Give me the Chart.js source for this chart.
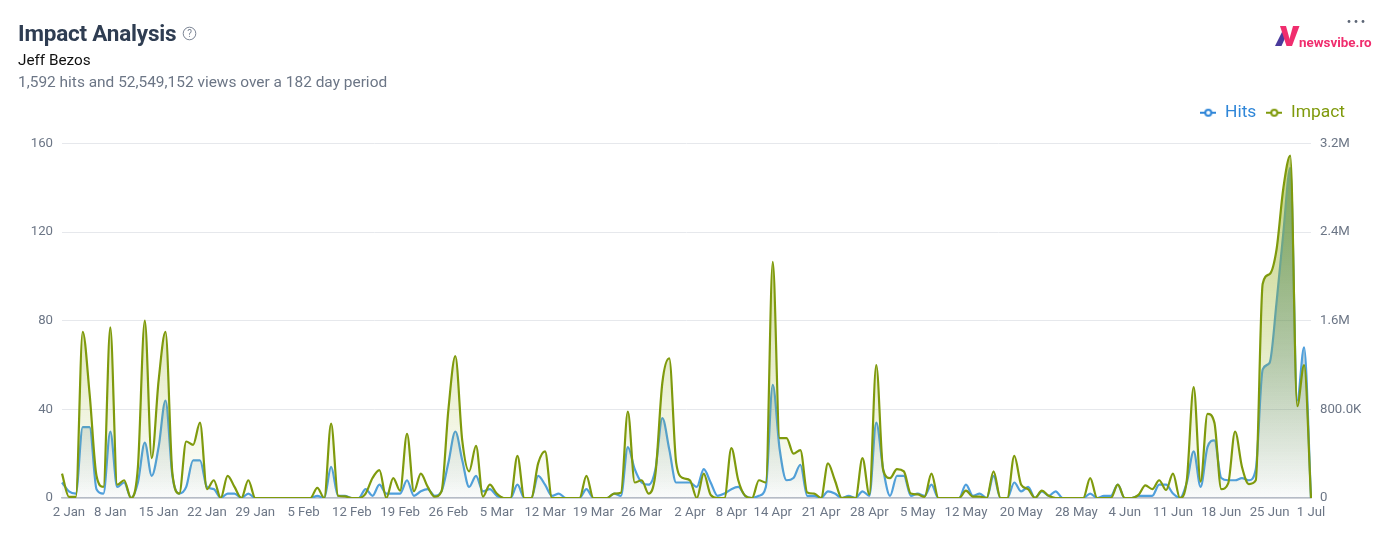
<!DOCTYPE html>
<html>
<head>
<meta charset="utf-8">
<title>Impact Analysis</title>
<script src="https://cdn.jsdelivr.net/npm/chart.js@4"></script>
<style>
    html, body { margin: 0; padding: 0; background: #fff; font-family: Roboto, sans-serif; }
    #wrap { position: relative; width: 1384px; height: 559px; overflow: hidden; }
    #wrap canvas { position: absolute; left: 0; top: 0; }
    .txt { position: absolute; white-space: nowrap; }
    #title { left: 18px; top: 20px; font-size: 22.5px; font-weight: 700; color: #2f3d52; letter-spacing: -0.2px; }
    #person { left: 18px; top: 51px; font-size: 15.3px; color: #111; }
    #summary { left: 18px; top: 73px; font-size: 15.45px; color: #6c7686; }
    #brand { left: 1299px; top: 35px; font-size: 13.4px; font-weight: 700; color: #f02d6e; }
    #help { position: absolute; left: 182px; top: 26px; }
    #logo { position: absolute; left: 1274px; top: 25px; }
    #dots { position: absolute; left: 1347px; top: 19px; }
</style>
</head>
<body>
<div id="wrap">
    <canvas id="impact-chart" width="1384" height="559"></canvas>
    <div class="txt" id="title">Impact Analysis</div>
    <svg id="help" width="15" height="15" viewBox="0 0 15 15">
        <circle cx="7.5" cy="7.5" r="6.3" fill="none" stroke="#7b8494" stroke-width="1"/>
        <text x="7.5" y="11" text-anchor="middle" font-size="10" font-family="Roboto" fill="#7b8494">?</text>
    </svg>
    <div class="txt" id="person">Jeff Bezos</div>
    <div class="txt" id="summary">1,592 hits and 52,549,152 views over a 182 day period</div>
    <svg id="logo" width="26" height="23" viewBox="0 0 26 23">
        <polygon points="1,21 9.5,4 12,11 7.5,21" fill="#4a3a9c"/>
        <polygon points="6,1 12,1 17.5,21 12.5,21" fill="#f02d6e"/>
        <polygon points="19,1 25.5,1 18,21 13.5,21" fill="#f02d6e"/>
    </svg>
    <div class="txt" id="brand">newsvibe.ro</div>
    <svg id="dots" width="18" height="5" viewBox="0 0 18 5">
        <circle cx="2" cy="2.5" r="1.4" fill="#5d6676"/>
        <circle cx="9" cy="2.5" r="1.4" fill="#5d6676"/>
        <circle cx="16" cy="2.5" r="1.4" fill="#5d6676"/>
    </svg>
</div>

<script>
const monthNames = ["Jan", "Feb", "Mar", "Apr", "May", "Jun", "Jul"];
const monthDays = [31, 28, 31, 30, 31, 30, 1];

const tickLabels = ["2 Jan", "8 Jan", "15 Jan", "22 Jan", "29 Jan", "5 Feb", "12 Feb", "19 Feb", "26 Feb",
    "5 Mar", "12 Mar", "19 Mar", "26 Mar", "2 Apr", "8 Apr", "14 Apr", "21 Apr", "28 Apr", "5 May", "12 May",
    "20 May", "28 May", "4 Jun", "11 Jun", "18 Jun", "25 Jun", "1 Jul"];

const hitsValues = [
    7, 3, 2, 32, 32, 4, 2, 30, 5, 7,
    0, 7, 25, 10, 23, 44, 10, 2, 5, 17,
    17, 5, 4, 0, 2, 2, 0, 2, 0, 0,
    0, 0, 0, 0, 0, 0, 0, 1, 0, 14,
    1, 1, 0, 0, 4, 1, 6, 2, 2, 2,
    8, 1, 3, 4, 1, 3, 16, 30, 17, 5,
    10, 3, 4, 1, 0, 0, 6, 0, 0, 10,
    6, 1, 2, 0, 0, 0, 4, 0, 0, 0,
    2, 1, 23, 13, 7, 6, 13, 36, 22, 7,
    7, 7, 5, 13, 7, 1, 2, 4, 5, 1,
    0, 1, 5, 51, 22, 8, 9, 15, 1, 1,
    0, 3, 2, 0, 1, 0, 3, 1, 34, 13,
    1, 10, 10, 1, 2, 1, 6, 0, 0, 0,
    0, 6, 1, 2, 0, 10, 0, 0, 7, 3,
    5, 0, 3, 1, 3, 0, 0, 0, 0, 2,
    0, 1, 1, 6, 0, 0, 1, 1, 1, 6,
    6, 2, 0, 7, 21, 5, 23, 26, 9, 8,
    8, 9, 8, 13, 58, 61, 88, 120, 149, 44,
    68, 0
];

const impactValues = [
    220000, 10000, 10000, 1500000, 940000, 200000, 100000, 1540000, 120000, 160000,
    0, 280000, 1600000, 360000, 1060000, 1500000, 220000, 40000, 510000, 480000,
    680000, 80000, 160000, 0, 200000, 100000, 0, 160000, 0, 0,
    0, 0, 0, 0, 0, 0, 0, 92000, 0, 672000,
    20000, 14000, 0, 0, 40000, 180000, 252000, 0, 180000, 66000,
    580000, 60000, 220000, 100000, 12000, 60000, 800000, 1280000, 520000, 240000,
    470000, 12000, 120000, 40000, 0, 0, 380000, 0, 0, 312000,
    420000, 0, 0, 0, 0, 0, 200000, 0, 0, 0,
    40000, 48000, 780000, 140000, 160000, 40000, 220000, 1040000, 1260000, 320000,
    180000, 160000, 0, 220000, 28000, 0, 0, 450000, 160000, 20000,
    0, 160000, 140000, 2130000, 540000, 540000, 400000, 432000, 50000, 40000,
    0, 312000, 160000, 0, 6000, 0, 360000, 32000, 1200000, 252000,
    180000, 260000, 240000, 40000, 32000, 10000, 220000, 0, 0, 0,
    0, 66000, 12000, 12000, 0, 240000, 0, 0, 380000, 120000,
    80000, 0, 66000, 20000, 0, 0, 0, 0, 0, 180000,
    0, 0, 0, 120000, 0, 0, 28000, 114000, 80000, 160000,
    72000, 220000, 0, 160000, 1000000, 148000, 760000, 680000, 80000, 132000,
    600000, 280000, 126000, 160000, 1934000, 2020000, 2240000, 2800000, 3090000, 828000,
    1200000, 0
];

const hitsColor = "#4f9fdd";
const impactColor = "#7f9a0c";

// Etiquetas diarias del 1 Jan al 1 Jul
const dayLabels = [];
monthNames.forEach((month, m) => {
    for (let d = 1; d <= monthDays[m]; d++) dayLabels.push(d + " " + month);
});

function legendMarker(color) {
    const c = document.createElement("canvas");
    c.width = 16;
    c.height = 10;
    const g = c.getContext("2d");
    g.strokeStyle = color;
    g.lineWidth = 2;
    g.beginPath();
    g.moveTo(0, 5);
    g.lineTo(16, 5);
    g.stroke();
    g.fillStyle = "#fff";
    g.beginPath();
    g.arc(8, 5, 3, 0, Math.PI * 2);
    g.fill();
    g.stroke();
    return c;
}

function areaGradient(context, stops) {
    const area = context.chart.chartArea;
    if (!area) return stops[stops.length - 1];
    const grad = context.chart.ctx.createLinearGradient(0, area.top, 0, area.bottom);
    stops.forEach((color, i) => grad.addColorStop(i / (stops.length - 1), color));
    return grad;
}

function formatImpact(value) {
    if (value === 0) return "0";
    if (value < 1000000) return (value / 1000).toFixed(1) + "K";
    return (value / 1000000).toFixed(1) + "M";
}

const axisFont = { family: "Roboto", size: 13.2 };

// Mover la leyenda sin tocar el area del grafico
const legendOffset = {
    id: "legendOffset",
    afterLayout(chart) {
        chart.legend.right = 1355;
        chart.legend.top -= 12;
    }
};

new Chart(document.getElementById("impact-chart"), {
    type: "line",
    plugins: [legendOffset],
    data: {
        labels: dayLabels,
        datasets: [
            {
                label: "Hits",
                data: hitsValues,
                yAxisID: "y",
                order: 2,
                borderColor: hitsColor,
                borderWidth: 2.2,
                pointRadius: 0,
                cubicInterpolationMode: "monotone",
                fill: "origin",
                backgroundColor: ctx => areaGradient(ctx, ["rgba(30,115,126,0.75)", "rgba(70,115,130,0.03)"])
            },
            {
                label: "Impact",
                data: impactValues,
                yAxisID: "y1",
                order: 1,
                borderColor: impactColor,
                borderWidth: 2.2,
                pointRadius: 0,
                cubicInterpolationMode: "monotone",
                fill: "origin",
                backgroundColor: ctx => areaGradient(ctx, ["rgba(150,175,30,0.6)", "rgba(150,175,30,0.0)"])
            }
        ]
    },
    options: {
        responsive: false,
        animation: false,
        devicePixelRatio: 1,
        layout: { padding: { top: 106, right: 0, left: 0, bottom: 0 } },
        plugins: {
            tooltip: { enabled: false },
            legend: {
                position: "top",
                align: "end",
                labels: {
                    usePointStyle: true,
                    pointStyleWidth: 16,
                    boxHeight: 10,
                    padding: 10,
                    font: { family: "Roboto", size: 17.4 },
                    generateLabels: () => [
                        { text: "Hits", fontColor: "#2f86d8", pointStyle: legendMarker("#2f86d8"), datasetIndex: 0, lineWidth: 0 },
                        { text: "Impact", fontColor: impactColor, pointStyle: legendMarker(impactColor), datasetIndex: 1, lineWidth: 0 }
                    ]
                }
            }
        },
        scales: {
            x: {
                grid: { display: false },
                border: { color: "#b9bec8", width: 1.5 },
                afterFit: scale => { scale.height = 61; },
                ticks: {
                    autoSkip: false,
                    maxRotation: 0,
                    minRotation: 0,
                    padding: -1,
                    color: "#6c7686",
                    font: axisFont,
                    callback: function (value) {
                        const label = this.getLabelForValue(value);
                        return tickLabels.includes(label) ? label : "";
                    }
                }
            },
            y: {
                position: "left",
                min: 0,
                max: 160,
                afterFit: scale => { scale.width = 62; },
                grid: { color: "#e6e8ec", drawTicks: false },
                border: { display: false },
                ticks: { stepSize: 40, padding: 9, color: "#6c7686", font: axisFont }
            },
            y1: {
                position: "right",
                min: 0,
                max: 3200000,
                afterFit: scale => { scale.width = 73; },
                grid: { display: false, drawTicks: false },
                border: { display: false },
                ticks: { stepSize: 800000, padding: 9, color: "#6c7686", font: axisFont, callback: formatImpact }
            }
        }
    }
});
</script>
</body>
</html>
